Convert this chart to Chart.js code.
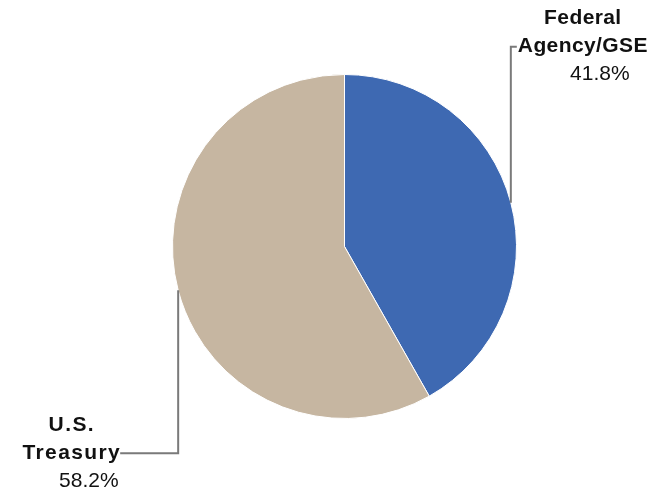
<!DOCTYPE html>
<html>
<head>
<meta charset="utf-8">
<script src="https://cdn.jsdelivr.net/npm/chart.js@4/dist/chart.umd.min.js"></script>
<style>
  html, body { margin: 0; padding: 0; background: #ffffff; }
  #wrap { width: 671px; height: 494px; }
</style>
</head>
<body>
<div id="wrap"><canvas id="pie" width="671" height="494"></canvas></div>
<script>
// Portfolio holdings by issuer type (percent of total)
const categories = ['Federal Agency/GSE', 'U.S. Treasury'];
const labelLines = [['Federal', 'Agency/GSE'], ['U.S.', 'Treasury']];
const shares = [41.8, 58.2];
const sliceColors = ['#3E69B2', '#C6B6A1'];

// Callout placement for each slice: leader runs vertically from the arc's
// midpoint for a given distance, then horizontally to the label.
const callouts = [
  { side: 'right', vertical: -156, horizontal: 6, spacing: 0.4 },
  { side: 'left', vertical: 163, horizontal: -58, spacing: 1.4 }
];

const nameFont = 'bold 21px "Liberation Sans", Arial, sans-serif';
const pctFont = '21px "Liberation Sans", Arial, sans-serif';
const lineGap = 28;

const calloutPlugin = {
  id: 'callouts',
  afterDatasetsDraw(chart) {
    const ctx = chart.ctx;
    const meta = chart.getDatasetMeta(0);
    meta.data.forEach((arc, i) => {
      const p = arc.getProps(['x', 'y', 'startAngle', 'endAngle', 'outerRadius'], true);
      const mid = (p.startAngle + p.endAngle) / 2;
      const ex = p.x + Math.cos(mid) * p.outerRadius;
      const ey = p.y + Math.sin(mid) * p.outerRadius;
      const c = callouts[i];
      const ly = ey + c.vertical;
      const lx = ex + c.horizontal;

      // leader line
      ctx.save();
      ctx.strokeStyle = '#7a7a7a';
      ctx.lineWidth = 2;
      ctx.beginPath();
      ctx.moveTo(ex, ey);
      ctx.lineTo(ex, ly);
      ctx.lineTo(lx, ly);
      ctx.stroke();
      ctx.restore();

      // label text: category name (bold, two lines) and percentage
      ctx.save();
      ctx.fillStyle = '#111111';
      ctx.textBaseline = 'middle';
      ctx.textAlign = 'center';
      ctx.font = nameFont;
      ctx.letterSpacing = c.spacing + 'px';
      const lines = labelLines[i];
      const maxW = Math.max(...lines.map(t => ctx.measureText(t).width));
      const cx = c.side === 'right' ? lx + 1 + maxW / 2 : lx - maxW / 2 + 1;
      // the second name line sits on the leader
      lines.forEach((t, k) => {
        const y = ly + (k - (lines.length - 1)) * lineGap;
        ctx.fillText(t, cx, y);
      });
      ctx.letterSpacing = '0px';
      ctx.font = pctFont;
      ctx.fillText(shares[i].toFixed(1) + '%', cx + 17, ly + lineGap);
      ctx.restore();
    });
  }
};

new Chart(document.getElementById('pie'), {
  type: 'pie',
  data: {
    labels: categories,
    datasets: [{
      data: shares,
      backgroundColor: sliceColors,
      borderColor: '#ffffff',
      borderWidth: 1
    }]
  },
  options: {
    responsive: false,
    animation: false,
    layout: { padding: { left: 18, right: 0, top: 74, bottom: 75 } },
    plugins: {
      legend: { display: false },
      tooltip: { enabled: false }
    }
  },
  plugins: [calloutPlugin]
});
</script>
</body>
</html>
